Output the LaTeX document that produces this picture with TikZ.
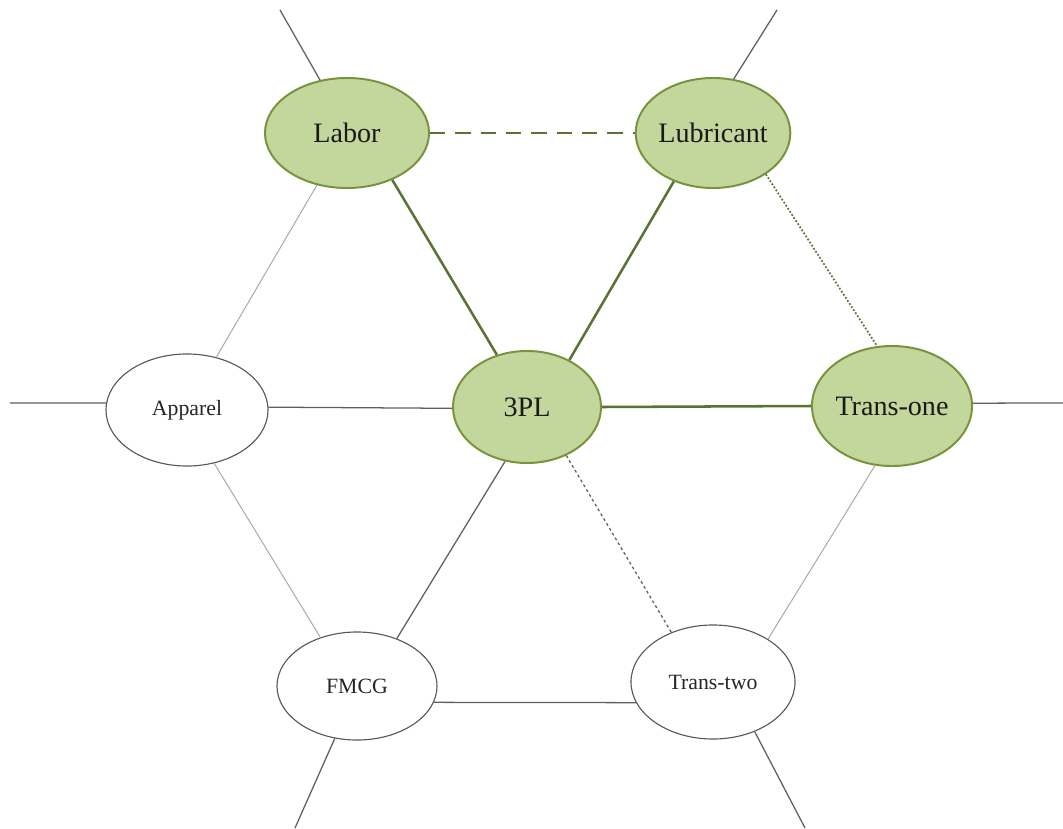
\documentclass[tikz,border=0pt]{standalone}
\usepackage{fontspec}
\setmainfont{Liberation Serif}
\usetikzlibrary{shapes.geometric}
\usetikzlibrary{positioning}

\definecolor{leaffill}{HTML}{C3D69B}
\definecolor{leafdraw}{HTML}{77933C}
\definecolor{linkgreen}{HTML}{5A7332}
\definecolor{linkgray}{HTML}{5F5F5F}
\definecolor{palegray}{HTML}{A8A8A8}

\begin{document}
\begin{tikzpicture}[x=0.025cm, y=-0.025cm,
    active/.style={ellipse, draw=leafdraw, fill=leaffill, line width=1.4pt, inner sep=0pt,
        font=\fontsize{20}{24}\selectfont, text=black!90},
    passive/.style={ellipse, draw=black!65, fill=white, line width=0.8pt, inner sep=0pt,
        font=\fontsize{15.5}{18}\selectfont, text=black!85},
    strong/.style={draw=linkgreen, line width=1.8pt},
    weak/.style={draw=linkgray, line width=0.9pt},
    faint/.style={draw=palegray, line width=0.7pt}]
    \useasboundingbox (0,0) rectangle (1063,828);

    \node[active, minimum width=4.1cm, minimum height=2.75cm] (labor) at (347,133) {Labor};
    \node[active, minimum width=3.75cm, minimum height=2.75cm] (lubricant) at (713,133) {Lubricant};
    \node[active, minimum width=3.7cm, minimum height=2.8cm] (tpl) at (527,407) {3PL};
    \node[active, minimum width=4.0cm, minimum height=3.0cm] (transone) at (892,406) {Trans-one};
    \node[passive, minimum width=4.05cm, minimum height=2.8cm] (apparel) at (187,410) {Apparel};
    \node[passive, minimum width=4.0cm, minimum height=2.7cm] (fmcg) at (357,686) {FMCG};
    \node[passive, minimum width=4.1cm, minimum height=2.85cm] (transtwo) at (713,682) {Trans-two};

    % loose ends
    \coordinate (outlabor) at (280,10);
    \coordinate (outlubricant) at (777,10);
    \coordinate (outapparel) at (10,403);
    \coordinate (outtransone) at (1063,403);
    \coordinate (outfmcg) at (295,828);
    \coordinate (outtranstwo) at (805,828);

    \path
    (labor.0) edge[strong, dash pattern=on 11pt off 7pt] (lubricant.180)
    (labor.-46) edge[strong] (tpl.120)
    (lubricant.231) edge[strong] (tpl.48)
    (lubricant.-38) edge[strong, line width=1.2pt, dash pattern=on 1.3pt off 1.3pt] (transone.104)
    (tpl.0) edge[strong] (transone.180)
    (apparel.2) edge[weak] (tpl.181)
    (apparel.61) edge[faint] (labor.240)
    (apparel.-63) edge[faint] (fmcg.127)
    (tpl.248) edge[weak] (fmcg.50)
    (tpl.-51) edge[weak, dash pattern=on 2pt off 2pt] (transtwo.130)
    (fmcg.-12) edge[weak] (transtwo.195)
    (transone.254) edge[faint] (transtwo.38);

    \path
    (labor.117) edge[weak] (outlabor)
    (lubricant.69) edge[weak] (outlubricant)
    (apparel.175) edge[weak] (outapparel)
    (transone.2) edge[weak] (outtransone)
    (fmcg.-113) edge[weak] (outfmcg)
    (transtwo.-50) edge[weak] (outtranstwo);
\end{tikzpicture}
\end{document}
